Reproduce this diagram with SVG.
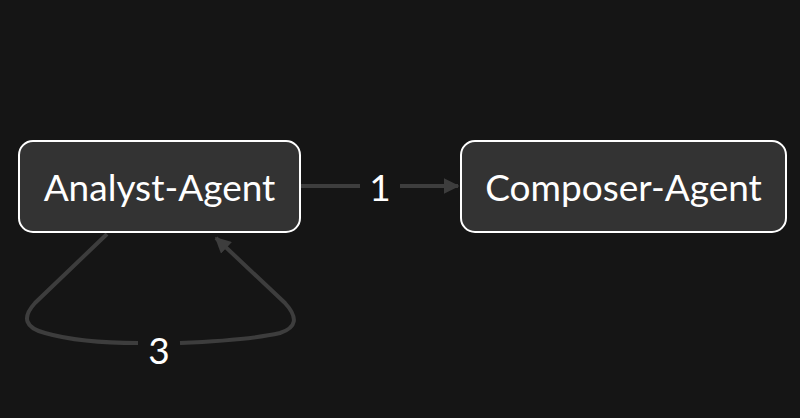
<svg xmlns="http://www.w3.org/2000/svg" width="800" height="418" viewBox="0 0 800 418">
<defs>
<style>
.node rect{fill:#333333;stroke:#ffffff;stroke-width:2}
.lbl{font-family:"Lato","DejaVu Sans",sans-serif;font-size:37px;fill:#ffffff;text-anchor:middle;dominant-baseline:central}
.edge{fill:none;stroke:#3d3d3d;stroke-width:4}
</style>
<marker id="ah" viewBox="0 0 10 10" refX="9" refY="5" markerWidth="4" markerHeight="4" orient="auto" markerUnits="strokeWidth">
<path d="M0,0L10,5L0,10z" fill="#3d3d3d"/>
</marker>
</defs>
<rect width="800" height="418" fill="#151515"/>
<g id="connectors">
<path class="edge" d="M301,186H360M400,186H458" marker-end="url(#ah)"/>
<path class="edge" d="M107,234L35,303Q15,325 45,333Q80,343 138,343"/>
<path class="edge" d="M180,343Q250,340 280,333Q305,325 285,303L216,238" marker-end="url(#ah)"/>
<text class="lbl" x="380" y="186">1</text>
<text class="lbl" x="159" y="349">3</text>
</g>
<g id="analyst" class="node">
<rect x="19" y="141" width="281" height="91" rx="14"/>
<text class="lbl" x="159.5" y="186">Analyst-Agent</text>
</g>
<g id="composer" class="node">
<rect x="461" y="141" width="325" height="91" rx="14"/>
<text class="lbl" x="623.5" y="186">Composer-Agent</text>
</g>
</svg>
